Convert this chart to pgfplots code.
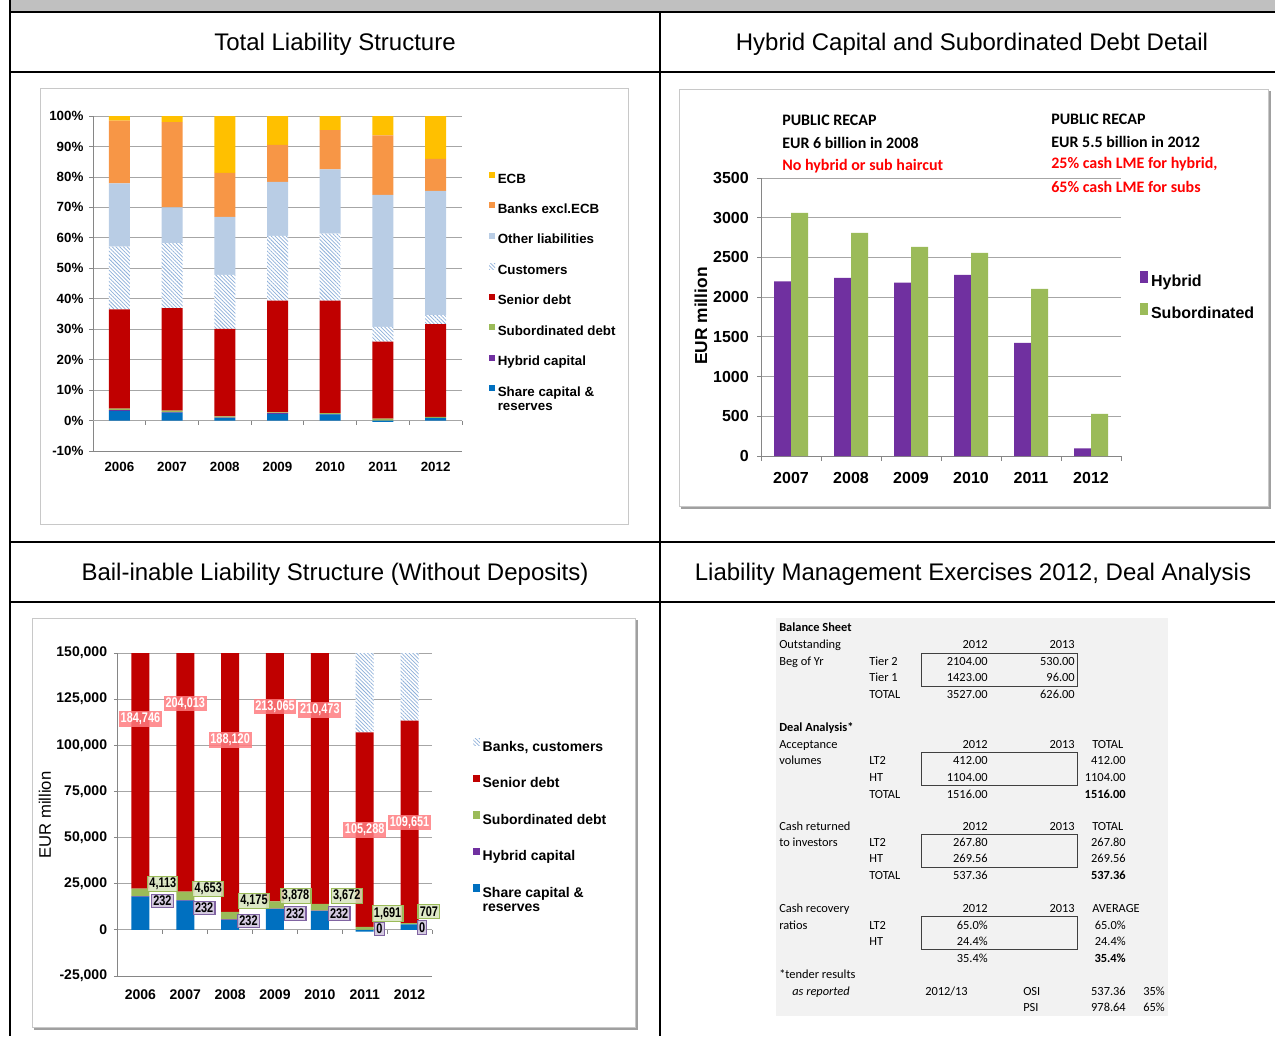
\documentclass[border=0pt]{standalone}
\usepackage{pgfplots}
\pgfplotsset{compat=1.18}
\usepackage{pgfplotstable}
\usetikzlibrary{patterns.meta}
\usepackage{fontspec}
\setmainfont{Liberation Sans}
\newfontfamily\carlito{Carlito}
\newfontfamily\narrow[FakeStretch=0.78]{Liberation Sans}

\definecolor{ecb}{HTML}{FFC000}
\definecolor{banks}{HTML}{F79646}
\definecolor{other}{HTML}{B9CDE5}
\definecolor{hatch}{HTML}{8EB0DA}
\definecolor{senior}{HTML}{C00000}
\definecolor{subd}{HTML}{9BBB59}
\definecolor{hyb}{HTML}{7030A0}
\definecolor{share}{HTML}{0070C0}
\definecolor{axgray}{HTML}{868686}
\definecolor{gridgray}{HTML}{A6A6A6}
\definecolor{bandgray}{HTML}{C0C0C0}
\definecolor{framegray}{HTML}{C8C8C8}
\definecolor{shadowgray}{HTML}{A0A0A0}
\definecolor{tablebg}{HTML}{F2F2F2}
\definecolor{senlab}{HTML}{FF7C80}
\definecolor{sublab}{HTML}{D7E4BD}
\definecolor{hyblab}{HTML}{CCC1DA}
\definecolor{hybdraw}{HTML}{8064A2}

\pgfplotstableread{
x share hyb sub sen cust oth bank ecb
0 3.2 0.2 0.5 32.6 20.6 20.8 20.6 1.5
1 2.6 0.2 0.5 33.6 21.4 11.7 28.0 2.0
2 0.9 0.1 0.4 28.7 17.7 19.1 14.4 18.7
3 2.2 0.2 0.3 36.7 21.2 17.8 12.1 9.5
4 2.0 0.1 0.3 37.0 22.0 21.1 12.9 4.6
5 -0.4 0.0 0.6 25.3 4.9 43.3 19.5 6.8
6 0.9 0.0 0.3 30.5 2.9 40.8 10.5 14.1
}\tlsdata

\pgfplotstableread{
x hyb sub
0 2200 3060
1 2243 2808
2 2184 2632
3 2280 2557
4 1423 2104
5 96 530
}\hsdata

\pgfplotstableread{
x share hyb sub sen bc
0 18000 232 4113 184746 60000
1 15900 232 4653 204013 60000
2 5400 232 4175 188120 60000
3 11300 232 3878 213065 60000
4 10200 232 3672 210473 60000
5 -1000 0 1691 105288 60000
6 3000 0 707 109651 60000
}\blsdata

\tikzset{
  lab/.style={font=\narrow\bfseries\fontsize{10.5}{12}\selectfont, inner sep=1.3pt},
  senL/.style={lab, fill=senlab, fill opacity=0.85, text opacity=1, text=white},
  subL/.style={lab, fill=sublab, fill opacity=0.85, text opacity=1, draw=subd, line width=0.8pt},
  hybL/.style={lab, fill=hyblab, fill opacity=0.85, text opacity=1, draw=hybdraw, line width=0.8pt},
  hatchA/.style={fill=white, postaction={pattern={Lines[angle=-45,distance=2pt,line width=0.55pt]}, pattern color=hatch}},
}
\pgfplotsset{
  sqA/.style={legend image code/.code={\fill[##1] (0pt,1.3pt) rectangle (4.5pt,5.8pt); \path (6.5pt,0pt);}},
  sqB/.style={legend image code/.code={\fill[##1] (0pt,0pt) rectangle (6pt,8.5pt); \path (8pt,0pt);}},
  sqC/.style={legend image code/.code={\fill[##1] (0pt,1.5pt) rectangle (5pt,7pt); \path (7pt,0pt);}},
  common/.style={
    scale only axis, anchor=south west,
    axis y line*=left, axis x line*=bottom,
    axis line style={draw=axgray, line width=0.75pt},
    ymajorgrids, grid style={draw=gridgray, line width=0.6pt},
    xtick style={draw=none},
    ytick style={draw=axgray, line width=0.6pt},
    tick align=outside, major tick length=3pt,
    scaled y ticks=false,
    clip mode=individual,
    legend cell align=left,
  },
}

\begin{document}
\begin{tikzpicture}
\useasboundingbox (0pt,0pt) rectangle (956.25pt,-777pt);
\begin{scope}[x=0.75pt,y=-0.75pt]
  % layout table
  \fill[bandgray] (10,0) rectangle (1275,12);
  \draw[line width=1.5pt] (9,12) -- (1275,12);
  \draw[line width=1.5pt] (9,72) -- (1275,72);
  \draw[line width=1.5pt] (9,542) -- (1275,542);
  \draw[line width=1.5pt] (9,602) -- (1275,602);
  \draw[line width=1.5pt] (10,0) -- (10,1036);
  \draw[line width=1.5pt] (660,12) -- (660,1036);
  % titles
  \node[font=\fontsize{18}{21}\selectfont] at (335,44.5) {Total Liability Structure};
  \node[font=\fontsize{18}{21}\selectfont] at (972,44.5) {Hybrid Capital and Subordinated Debt Detail};
  \node[font=\fontsize{18}{21}\selectfont] at (335,574.5) {Bail-inable Liability Structure (Without Deposits)};
  \node[font=\fontsize{18}{21}\selectfont] at (973,574.5) {Liability Management Exercises 2012, Deal Analysis};
  % chart frames
  \draw[framegray, line width=0.75pt] (40,88) rectangle (628,524);
  \draw[shadowgray, line width=1.5pt] (681,507.5) -- (1269.5,507.5) -- (1269.5,91);
  \draw[framegray, line width=0.75pt] (679,89) rectangle (1268,506);
  \draw[shadowgray, line width=1.5pt] (34,1028.5) -- (636.5,1028.5) -- (636.5,620);
  \draw[framegray, line width=0.75pt] (32,618) rectangle (635,1027);
  % panel 2 annotations
  \begin{scope}[font=\carlito\bfseries\fontsize{12}{14}\selectfont]
    \node[anchor=west, inner sep=0] at (782,120) {PUBLIC RECAP};
    \node[anchor=west, inner sep=0] at (782,143) {EUR 6 billion in 2008};
    \node[anchor=west, inner sep=0, text=red] at (782,166) {No hybrid or sub haircut};
    \node[anchor=west, inner sep=0] at (1051,119) {PUBLIC RECAP};
    \node[anchor=west, inner sep=0] at (1051,142) {EUR 5.5 billion in 2012};
    \node[anchor=west, inner sep=0, text=red] at (1051,164) {25\% cash LME for hybrid,};
    \node[anchor=west, inner sep=0, text=red] at (1051,187) {65\% cash LME for subs};
  \end{scope}
  \node[rotate=90, font=\bfseries\fontsize{13}{15}\selectfont] at (701,316) {EUR million};
  \node[rotate=90, font=\fontsize{12.5}{15}\selectfont] at (45,815) {EUR million};
  % panel 4 table
  \fill[tablebg] (776,618) rectangle (1168,1016);
  \begin{scope}[font=\carlito\fontsize{9.3}{11}\selectfont]
    \def\L#1#2#3{\node[anchor=base west, inner sep=0] at (#1,#2+4) {#3};}
    \def\R#1#2#3{\node[anchor=base east, inner sep=0] at (#1,#2+4) {#3};}
    \L{779}{627}{\bfseries Balance Sheet}
    \L{779}{644}{Outstanding} \R{988}{644}{2012} \R{1075}{644}{2013}
    \L{779}{661}{Beg of Yr} \L{869}{661}{Tier 2} \R{988}{661}{2104.00} \R{1075}{661}{530.00}
    \L{869}{677}{Tier 1} \R{988}{677}{1423.00} \R{1075}{677}{96.00}
    \L{869}{694}{TOTAL} \R{988}{694}{3527.00} \R{1075}{694}{626.00}
    \L{779}{727}{\bfseries Deal Analysis*}
    \L{779}{744}{Acceptance} \R{988}{744}{2012} \R{1075}{744}{2013} \L{1092}{744}{TOTAL}
    \L{779}{760}{volumes} \L{869}{760}{LT2} \R{988}{760}{412.00} \R{1126}{760}{412.00}
    \L{869}{777}{HT} \R{988}{777}{1104.00} \R{1126}{777}{1104.00}
    \L{869}{794}{TOTAL} \R{988}{794}{1516.00} \R{1126}{794}{\bfseries 1516.00}
    \L{779}{826}{Cash returned} \R{988}{826}{2012} \R{1075}{826}{2013} \L{1092}{826}{TOTAL}
    \L{779}{842}{to investors} \L{869}{842}{LT2} \R{988}{842}{267.80} \R{1126}{842}{267.80}
    \L{869}{858}{HT} \R{988}{858}{269.56} \R{1126}{858}{269.56}
    \L{869}{875}{TOTAL} \R{988}{875}{537.36} \R{1126}{875}{\bfseries 537.36}
    \L{779}{908}{Cash recovery} \R{988}{908}{2012} \R{1075}{908}{2013} \L{1092}{908}{AVERAGE}
    \L{779}{925}{ratios} \L{869}{925}{LT2} \R{988}{925}{65.0\%} \R{1126}{925}{65.0\%}
    \L{869}{941}{HT} \R{988}{941}{24.4\%} \R{1126}{941}{24.4\%}
    \R{988}{958}{35.4\%} \R{1126}{958}{\bfseries 35.4\%}
    \L{779}{974}{*tender results}
    \L{792}{991}{\itshape as reported} \L{925}{991}{2012/13} \L{1023}{991}{OSI} \R{1126}{991}{537.36} \R{1165}{991}{35\%}
    \L{1023}{1007}{PSI} \R{1126}{1007}{978.64} \R{1165}{1007}{65\%}
  \end{scope}
  \begin{scope}[draw=black!75, line width=0.75pt]
    \draw (921,653) rectangle (1077,686);
    \draw (921,752) rectangle (1077,785);
    \draw (921,834) rectangle (1077,867);
    \draw (921,916) rectangle (1077,949);
  \end{scope}
\end{scope}

% ---------------- Panel 1 ----------------
\begin{axis}[common,
  at={(69.75pt,-338.25pt)}, width=276.75pt, height=251.25pt,
  ybar stacked, bar width=15.75pt,
  xmin=-0.5, xmax=6.5, ymin=-10, ymax=100,
  xtick={0,1,2,3,4,5,6}, xticklabels={2006,2007,2008,2009,2010,2011,2012},
  ytick={-10,0,10,20,30,40,50,60,70,80,90,100},
  yticklabels={-10\%,0\%,10\%,20\%,30\%,40\%,50\%,60\%,70\%,80\%,90\%,100\%},
  ticklabel style={font=\bfseries\fontsize{10}{12}\selectfont},
  yticklabel style={inner sep=0pt, xshift=-4pt},
  xticklabel style={inner sep=0pt, yshift=-5.5pt},
  reverse legend,
  legend style={at={(1.062,0.842)}, anchor=north west, draw=none, fill=none,
    font=\bfseries\fontsize{10}{12}\selectfont, row sep=12.4pt,
    nodes={inner sep=0pt, text height=7.2pt, text depth=2.1pt}},
]
\addplot[fill=share, draw=none, sqA] table[x=x,y=share]{\tlsdata};
\addlegendentry{\begin{tabular}[t]{@{}l@{}}Share capital \&\\[-1.5pt]reserves\end{tabular}}
\addplot[fill=hyb, draw=none, sqA] table[x=x,y=hyb]{\tlsdata};
\addlegendentry{Hybrid capital}
\addplot[fill=subd, draw=none, sqA] table[x=x,y=sub]{\tlsdata};
\addlegendentry{Subordinated debt}
\addplot[fill=senior, draw=none, sqA] table[x=x,y=sen]{\tlsdata};
\addlegendentry{Senior debt}
\addplot[hatchA, draw=none, sqA] table[x=x,y=cust]{\tlsdata};
\addlegendentry{Customers}
\addplot[fill=other, draw=none, sqA] table[x=x,y=oth]{\tlsdata};
\addlegendentry{Other liabilities}
\addplot[fill=banks, draw=none, sqA] table[x=x,y=bank]{\tlsdata};
\addlegendentry{Banks excl.ECB}
\addplot[fill=ecb, draw=none, sqA] table[x=x,y=ecb]{\tlsdata};
\addlegendentry{ECB}
\draw[gridgray, line width=0.6pt] (axis cs:-0.5,0) -- (axis cs:6.5,0);
\pgfplotsinvokeforeach{0.5,1.5,2.5,3.5,4.5,5.5,6.5}{\draw[axgray, line width=0.6pt] (axis cs:#1,0) -- ++(0pt,-3pt);}
\end{axis}

% ---------------- Panel 2 ----------------
\begin{axis}[common,
  at={(570.75pt,-342pt)}, width=270pt, height=208.5pt,
  ybar=0pt, bar width=12.75pt,
  xmin=-0.5, xmax=5.5, ymin=0, ymax=3500,
  xtick={0,1,2,3,4,5}, xticklabels={2007,2008,2009,2010,2011,2012},
  ytick={0,500,1000,1500,2000,2500,3000,3500},
  yticklabels={0,500,1000,1500,2000,2500,3000,3500},
  yticklabel style={font=\bfseries\fontsize{12}{14}\selectfont, inner sep=0pt, xshift=-6pt},
  xticklabel style={font=\bfseries\fontsize{12}{14}\selectfont, inner sep=0pt, yshift=-9pt},
  legend style={at={(1.042,0.675)}, anchor=north west, draw=none, fill=none,
    font=\bfseries\fontsize{12}{14}\selectfont, row sep=9.5pt,
    nodes={inner sep=0pt, text height=9pt, text depth=3pt}},
]
\addplot[fill=hyb, draw=none, sqB] table[x=x,y=hyb]{\hsdata};
\addlegendentry{Hybrid}
\addplot[fill=subd, draw=none, sqB] table[x=x,y=sub]{\hsdata};
\addlegendentry{Subordinated}
\pgfplotsinvokeforeach{-0.5,0.5,1.5,2.5,3.5,4.5,5.5}{\draw[axgray, line width=0.6pt] (axis cs:#1,0) -- ++(0pt,-4pt);}
\end{axis}

% ---------------- Panel 3 ----------------
\begin{axis}[common,
  at={(88.5pt,-732pt)}, width=235.5pt, height=242.25pt,
  ybar stacked, bar width=13.5pt,
  xmin=-0.5, xmax=6.5, ymin=-25000, ymax=150000,
  xtick={0,1,2,3,4,5,6}, xticklabels={2006,2007,2008,2009,2010,2011,2012},
  ytick={-25000,0,25000,50000,75000,100000,125000,150000},
  yticklabels={{-25,000},0,{25,000},{50,000},{75,000},{100,000},{125,000},{150,000}},
  ticklabel style={font=\bfseries\fontsize{10.5}{12}\selectfont},
  yticklabel style={inner sep=0pt, xshift=-5pt},
  xticklabel style={inner sep=0pt, yshift=-6.8pt},
  reverse legend,
  legend style={at={(1.118,0.745)}, anchor=north west, draw=none, fill=none,
    font=\bfseries\fontsize{10.5}{12}\selectfont, row sep=15.3pt,
    nodes={inner sep=0pt, text height=7.8pt, text depth=2.3pt}},
]
\addplot[fill=share, draw=none, sqC] table[x=x,y=share]{\blsdata};
\addlegendentry{\begin{tabular}[t]{@{}l@{}}Share capital \&\\[-1pt]reserves\end{tabular}}
\addplot[fill=hyb, draw=none, sqC] table[x=x,y=hyb]{\blsdata};
\addlegendentry{Hybrid capital}
\addplot[fill=subd, draw=none, sqC] table[x=x,y=sub]{\blsdata};
\addlegendentry{Subordinated debt}
\addplot[fill=senior, draw=none, sqC] table[x=x,y=sen]{\blsdata};
\addlegendentry{Senior debt}
\addplot[hatchA, draw=none, sqC] table[x=x,y=bc]{\blsdata};
\addlegendentry{Banks, customers}
\draw[gridgray, line width=0.6pt] (axis cs:-0.5,0) -- (axis cs:6.5,0);
\pgfplotsinvokeforeach{0.5,1.5,2.5,3.5,4.5,5.5,6.5}{\draw[axgray, line width=0.6pt] (axis cs:#1,0) -- ++(0pt,-3pt);}
\end{axis}

% overlay axis for the data labels of panel 3 (same geometry)
\begin{axis}[
  at={(88.5pt,-732pt)}, anchor=south west, scale only axis, width=235.5pt, height=242.25pt,
  xmin=-0.5, xmax=6.5, ymin=-25000, ymax=150000, hide axis, clip=false,
]
\node[senL] at (axis cs:0,114160) {184,746};
\node[senL] at (axis cs:1,122610) {204,013};
\node[senL] at (axis cs:2,102940) {188,120};
\node[senL] at (axis cs:3,120980) {213,065};
\node[senL] at (axis cs:4,119200) {210,473};
\node[senL] at (axis cs:5,54180) {105,288};
\node[senL] at (axis cs:6,58130) {109,651};
\node[subL] at (axis cs:0.5,24760) {4,113};
\node[subL] at (axis cs:1.51,22050) {4,653};
\node[subL] at (axis cs:2.53,15710) {4,175};
\node[subL] at (axis cs:3.46,18260) {3,878};
\node[subL] at (axis cs:4.6,18260) {3,672};
\node[subL] at (axis cs:5.51,8830) {1,691};
\node[subL] at (axis cs:6.43,9915) {707};
\node[hybL] at (axis cs:0.49,15710) {232};
\node[hybL] at (axis cs:1.42,11760) {232};
\node[hybL] at (axis cs:2.41,4876) {232};
\node[hybL] at (axis cs:3.45,8830) {232};
\node[hybL] at (axis cs:4.43,8830) {232};
\node[hybL] at (axis cs:5.33,380) {0};
\node[hybL] at (axis cs:6.28,1250) {0};
\end{axis}
\end{tikzpicture}
\end{document}
